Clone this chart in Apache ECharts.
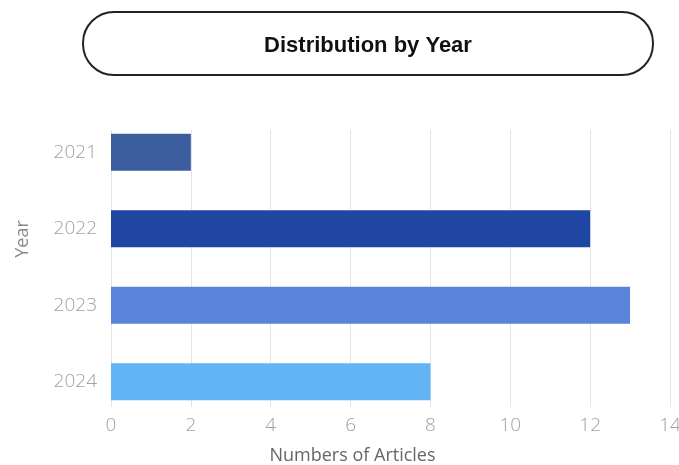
<!DOCTYPE html>
<html>
<head>
<meta charset="utf-8">
<script src="https://cdn.jsdelivr.net/npm/echarts@6/dist/echarts.min.js"></script>
<style>html,body{margin:0;padding:0;background:#fff;}#main{width:679px;height:465px;}</style>
</head>
<body>
<div id="main"></div>
<script>
var categories = ['2021', '2022', '2023', '2024'];
var values = [2, 12, 13, 8];
var barColors = ['#3d5e9e', '#1e46a2', '#5a83dc', '#63b4f5'];
var xTicks = [0, 2, 4, 6, 8, 10, 12, 14];

var chart = echarts.init(document.getElementById('main'));
var font = "'Open Sans', 'Liberation Sans', sans-serif";
chart.setOption({
  animation: false,
  backgroundColor: '#fff',
  graphic: [
    { type: 'rect', shape: { x: 83, y: 12, width: 570, height: 63, r: 31 },
      style: { fill: '#fff', stroke: '#222', lineWidth: 2 } },
    { type: 'text', x: 368, y: 46,
      style: { text: 'Distribution by Year', fill: '#111', font: "bold 22px 'Liberation Sans', Arial, sans-serif",
               textAlign: 'center', textVerticalAlign: 'middle' } }
  ],
  grid: [
    { left: 111, right: 9, top: 114, bottom: 45, outerBoundsMode: 'none', containLabel: false },
    { left: 111, right: 9, top: 130, bottom: 58, outerBoundsMode: 'none', containLabel: false }
  ],
  xAxis: [
    { type: 'value', gridIndex: 0, min: 0, max: 14, interval: 2,
      name: 'Numbers of Articles', nameLocation: 'middle', nameGap: 27,
      nameTextStyle: { color: '#666', fontSize: 18, fontFamily: font, padding: [0, 76, 0, 0] },
      axisLine: { show: false }, axisTick: { show: false }, splitLine: { show: false },
      axisLabel: { margin: -4, color: '#a0a0a0', fontSize: 19, fontFamily: font, fontWeight: 300,
                   formatter: function (v) { return xTicks.indexOf(v) >= 0 ? String(v) : ''; } } },
    { type: 'value', gridIndex: 1, min: 0, max: 14, interval: 2,
      axisLine: { show: false }, axisTick: { show: false }, axisLabel: { show: false },
      splitLine: { show: true, lineStyle: { color: '#e3e3e6', width: 1 } } }
  ],
  yAxis: [
    { type: 'category', gridIndex: 0, data: categories, inverse: true,
      name: 'Year', nameLocation: 'middle', nameGap: 79,
      nameTextStyle: { color: '#888', fontSize: 18, fontFamily: font, padding: [0, 0, 0, 56] },
      axisLine: { show: false }, axisTick: { show: false },
      axisLabel: { margin: 14, color: '#a0a0a0', fontSize: 19, fontFamily: font, fontWeight: 300 } },
    { type: 'category', gridIndex: 1, data: categories, show: false }
  ],
  series: [
    { type: 'bar', xAxisIndex: 0, yAxisIndex: 0, barWidth: 37, z: 3,
      data: values.map(function (v, i) { return { value: v, itemStyle: { color: barColors[i] } }; }) }
  ]
});
</script>
</body>
</html>
